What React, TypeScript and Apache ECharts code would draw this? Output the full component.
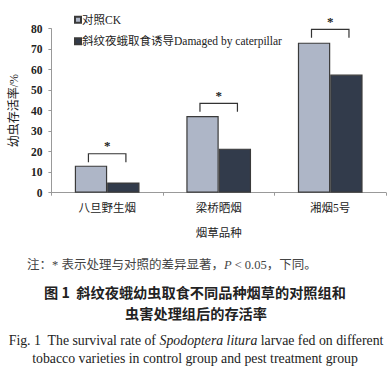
import React, { useEffect, useRef } from "react";
import * as echarts from "echarts";

const categories = ["八旦野生烟", "梁桥晒烟", "湘烟5号"];
const seriesNames = ["对照CK", "斜纹夜蛾取食诱导Damaged by caterpillar"];
const ckValues = [13.2, 37.4, 73.2];
const damagedValues = [5.0, 21.5, 57.6];
const bracketValues = [19.0, 43.6, 79.7];
const yTicks = { min: 0, max: 80, interval: 10 };

const SERIF = "'Liberation Serif', 'Times New Roman', 'Noto Sans CJK SC', serif";

export default function App() {
  const ref = useRef<HTMLDivElement>(null);
  useEffect(() => {
    document.body.style.margin = "0";
    if (!ref.current) return;
    const chart = echarts.init(ref.current, undefined, { renderer: "svg" });
    const bracketData = bracketValues.map((v, i) => [i, v]);
    chart.setOption({
      animation: false,
      textStyle: { fontFamily: SERIF },
      grid: { left: 49, right: 2, top: 28.7, bottom: 180.3, containLabel: false },
      legend: {
        orient: "vertical",
        left: 69,
        top: 9,
        itemWidth: 6,
        itemHeight: 6,
        itemGap: 10,
        icon: "rect",
        data: seriesNames,
        textStyle: { fontFamily: SERIF, fontSize: 11.5, color: "#222", padding: [0, 0, 0, -4] },
      },
      xAxis: {
        type: "category",
        data: categories,
        name: "烟草品种",
        nameLocation: "middle",
        nameGap: 35,
        nameTextStyle: { fontFamily: SERIF, fontSize: 11.5, color: "#222" },
        axisLine: { lineStyle: { color: "#999", width: 1 } },
        axisTick: { show: true, length: 3, lineStyle: { color: "#999" } },
        axisLabel: { fontFamily: SERIF, fontSize: 11.5, color: "#222", margin: 10 },
      },
      yAxis: {
        type: "value",
        min: yTicks.min,
        max: yTicks.max,
        interval: yTicks.interval,
        name: "幼虫存活率/%",
        nameLocation: "middle",
        nameGap: 25,
        nameTextStyle: { fontFamily: SERIF, fontSize: 12, color: "#222" },
        axisLine: { show: true, lineStyle: { color: "#999", width: 1 } },
        axisTick: { show: true, length: 3, lineStyle: { color: "#999" } },
        splitLine: { show: false },
        axisLabel: { fontFamily: SERIF, fontSize: 11.5, fontWeight: "bold", color: "#222", margin: 9 },
      },
      series: [
        {
          name: seriesNames[0],
          type: "bar",
          data: ckValues,
          barCategoryGap: "42%",
          barGap: "0%",
          itemStyle: { color: "#aeb6c7", borderColor: "#3a3a3a", borderWidth: 1.2 },
        },
        {
          name: seriesNames[1],
          type: "bar",
          data: damagedValues,
          barCategoryGap: "42%",
          barGap: "0%",
          itemStyle: { color: "#323b4b", borderColor: "#3a3a3a", borderWidth: 1.2 },
        },
        {
          type: "custom",
          data: bracketData,
          encode: { x: 0, y: 1 },
          silent: true,
          renderItem: (params: any, api: any) => {
            const c = api.coord([api.value(0), api.value(1)]);
            const bw = api.size([1, 0])[0];
            const half = bw * 0.168;
            const leg = 8.5;
            return {
              type: "group",
              children: [
                {
                  type: "polyline",
                  shape: {
                    points: [
                      [c[0] - half, c[1] + leg],
                      [c[0] - half, c[1]],
                      [c[0] + half, c[1]],
                      [c[0] + half, c[1] + leg],
                    ],
                  },
                  style: { stroke: "#333", fill: null, lineWidth: 1.2 },
                },
                {
                  type: "text",
                  style: {
                    text: "*",
                    x: c[0],
                    y: c[1] - 8,
                    align: "center",
                    verticalAlign: "middle",
                    font: "bold 13px " + SERIF,
                    fill: "#222",
                  },
                },
              ],
            };
          },
        },
      ],
      graphic: [
        {
          type: "text",
          x: 27,
          y: 265,
          style: {
            text: "注：* 表示处理与对照的差异显著，{i|P} < 0.05，下同。",
            font: "12.5px " + SERIF,
            fill: "#444",
            verticalAlign: "middle",
            rich: { i: { fontStyle: "italic", fontSize: 12.5, fontFamily: SERIF, fill: "#444" } },
          },
        },
        {
          type: "text",
          x: 195,
          y: 292,
          style: {
            text: "图 1  斜纹夜蛾幼虫取食不同品种烟草的对照组和",
            font: "bold 14.2px 'Noto Sans CJK SC', sans-serif",
            fill: "#222",
            align: "center",
            verticalAlign: "middle",
          },
        },
        {
          type: "text",
          x: 196,
          y: 313,
          style: {
            text: "虫害处理组后的存活率",
            font: "bold 14.2px 'Noto Sans CJK SC', sans-serif",
            fill: "#222",
            align: "center",
            verticalAlign: "middle",
          },
        },
        {
          type: "text",
          x: 196,
          y: 340,
          style: {
            text: "Fig. 1  The survival rate of {i|Spodoptera litura} larvae fed on different",
            font: "13.8px " + SERIF,
            fill: "#222",
            align: "center",
            verticalAlign: "middle",
            rich: { i: { fontStyle: "italic", fontSize: 13.8, fontFamily: SERIF, fill: "#222" } },
          },
        },
        {
          type: "text",
          x: 195,
          y: 358,
          style: {
            text: "tobacco varieties in control group and pest treatment group",
            font: "13.8px " + SERIF,
            fill: "#222",
            align: "center",
            verticalAlign: "middle",
          },
        },
      ],
    });
    return () => chart.dispose();
  }, []);
  return <div ref={ref} style={{ width: 388, height: 373 }} />;
}
